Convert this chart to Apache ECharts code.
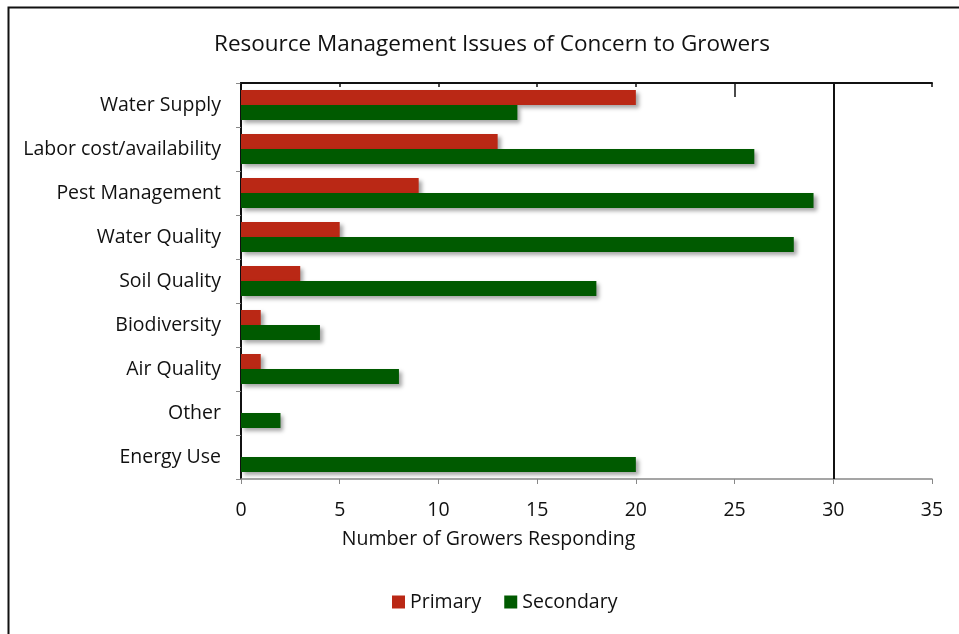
<!DOCTYPE html>
<html><head><meta charset="utf-8">
<script src="https://cdn.jsdelivr.net/npm/echarts@6/dist/echarts.min.js"></script>
<style>html,body{margin:0;padding:0;background:#fff}#c{width:959px;height:634px}</style>
</head><body><div id="c"></div>
<script>
const categories = ["Water Supply","Labor cost/availability","Pest Management","Water Quality","Soil Quality","Biodiversity","Air Quality","Other","Energy Use"];
const primary = [20,13,9,5,3,1,1,0,0];
const secondary = [14,26,29,28,18,4,8,2,20];
const xTicks = [0,5,10,15,20,25,30,35];
const FONT = 'Open Sans';
const FS = 19.5;
const chart = echarts.init(document.getElementById('c'));
const shadow = {shadowColor:'rgba(0,0,0,0.35)',shadowBlur:4,shadowOffsetX:3,shadowOffsetY:3};
chart.setOption({
  animation:false,
  textStyle:{fontFamily:FONT},
  title:{text:'Resource Management Issues of Concern to Growers',left:487,textAlign:'center',top:28,
    textStyle:{fontFamily:FONT,fontWeight:'normal',fontSize:22.5,color:'#111'}},
  graphic:[{type:'rect',shape:{x:8.5,y:7.5,width:1000,height:700},style:{fill:'none',stroke:'#111',lineWidth:2},silent:true,z:-1}],
  legend:{bottom:22,left:392,itemWidth:13,itemHeight:13,itemGap:23,icon:'rect',padding:0,
    textStyle:{fontFamily:FONT,fontSize:FS,color:'#111'},data:['Primary','Secondary']},
  grid:{left:241,right:27,top:83,bottom:155},
  xAxis:[{type:'value',min:0,max:35,interval:5,position:'bottom',
    axisLine:{show:true,lineStyle:{color:'#888',width:1.5}},
    axisTick:{show:true,length:5,lineStyle:{color:'#888'}},
    axisLabel:{fontSize:FS,color:'#111',margin:21,fontFamily:FONT,formatter:v=>String(v)},
    splitLine:{show:false},
    name:'Number of Growers Responding',nameLocation:'middle',nameGap:50,
    nameTextStyle:{fontSize:FS,color:'#111',fontFamily:FONT,padding:[0,196,0,0]}},
   {type:'value',min:0,max:35,interval:5,position:'top',
    axisLine:{show:true,lineStyle:{color:'#111',width:2}},
    axisTick:{show:true,inside:true,length:4,lineStyle:{color:'#111',width:1.5}},
    axisLabel:{show:false},splitLine:{show:false}},
   {type:'value',min:0,max:35,position:'top',
    axisLine:{show:false},
    axisTick:{show:true,inside:true,length:14,customValues:[25],lineStyle:{color:'#111',width:1.5}},
    axisLabel:{show:false},splitLine:{show:false}}],
  yAxis:[{type:'category',data:categories,inverse:true,
    axisLine:{show:true,lineStyle:{color:'#888',width:1.5}},
    axisTick:{show:true,length:5,lineStyle:{color:'#888'}},
    axisLabel:{fontSize:FS,color:'#111',margin:20,fontFamily:FONT}},
   {type:'category',data:categories,inverse:true,position:'right',
    axisLine:{show:true,lineStyle:{color:'#111',width:2}},
    axisTick:{show:false},axisLabel:{show:false}}],
  series:[
    {name:'Primary',type:'bar',data:primary,barWidth:15,barGap:'0%',barCategoryGap:'32%',
      itemStyle:Object.assign({color:'#BA2815'},shadow),
      markLine:{silent:true,symbol:'none',label:{show:false},lineStyle:{color:'#111',type:'solid',width:2},data:[{xAxis:30}]}},
    {name:'Secondary',type:'bar',data:secondary,barWidth:15,barGap:'0%',barCategoryGap:'32%',
      itemStyle:Object.assign({color:'#005A00'},shadow)}
  ]
});
</script></body></html>
